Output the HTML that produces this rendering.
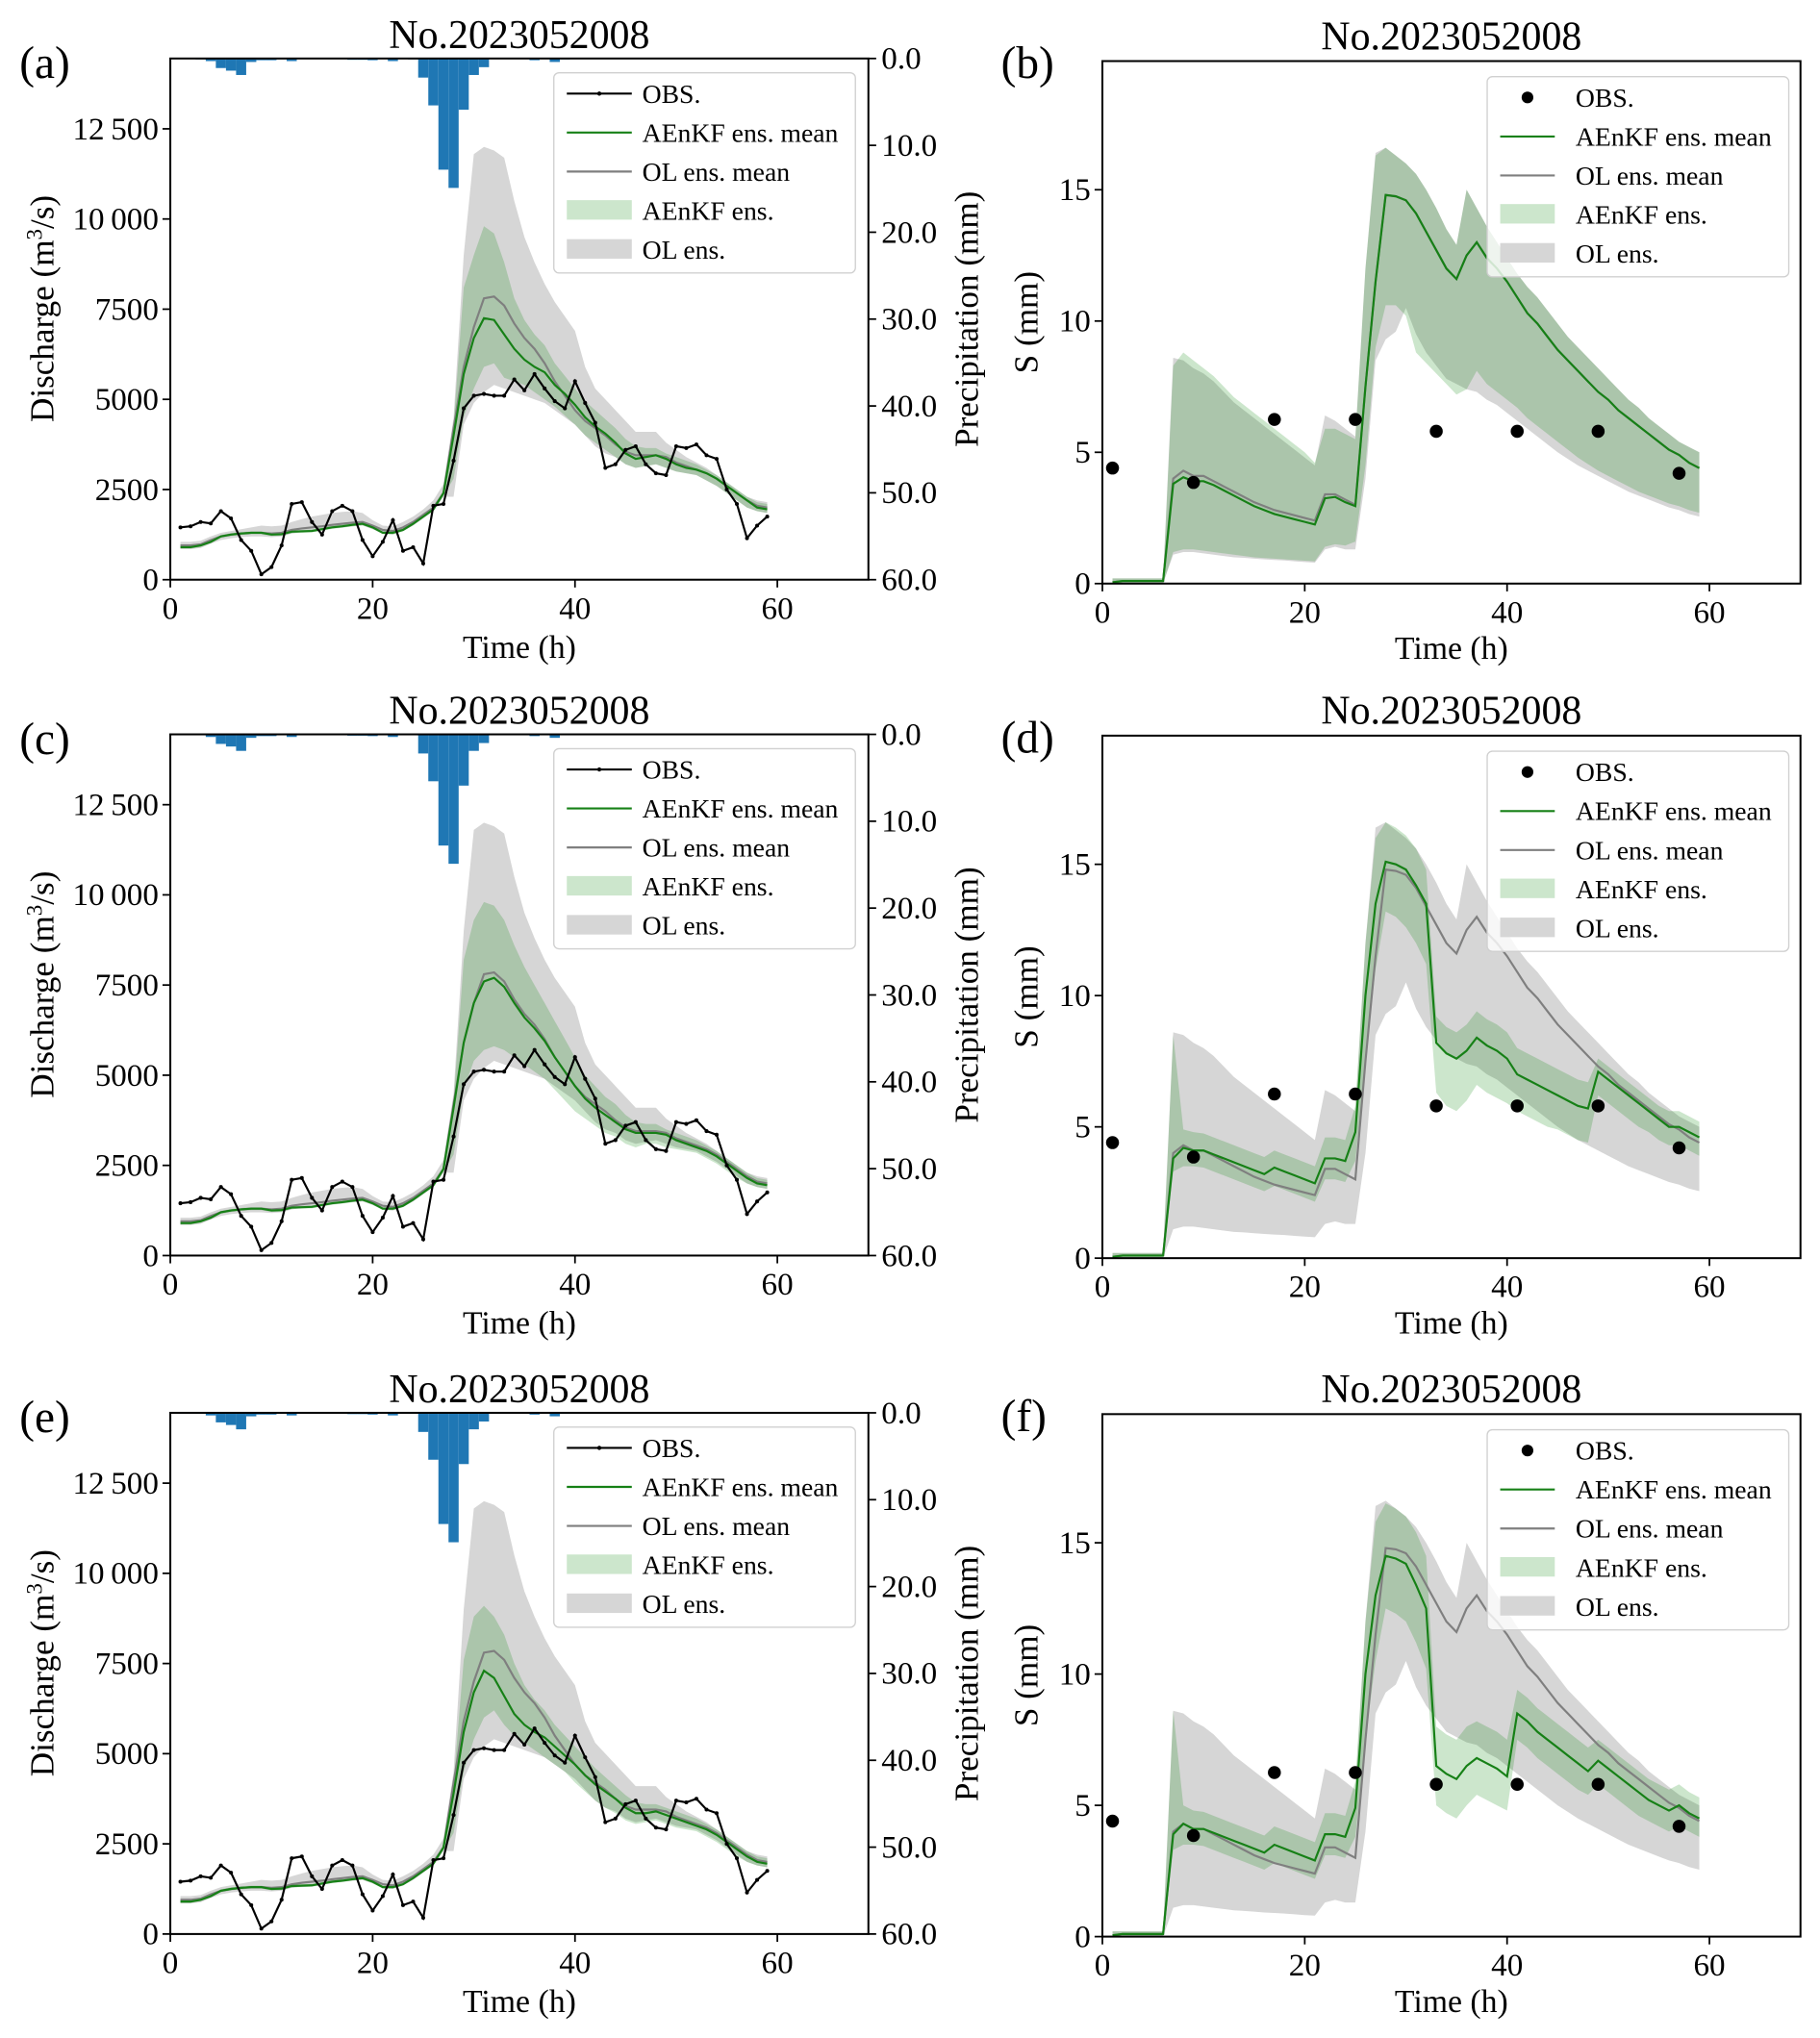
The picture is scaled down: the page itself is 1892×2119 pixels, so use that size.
<!DOCTYPE html>
<html><head><meta charset="utf-8"><style>
html,body{margin:0;padding:0;background:#fff}
svg{display:block}
text{font-family:"Liberation Serif",serif;fill:#000}
</style></head><body>
<svg id="fig" xmlns="http://www.w3.org/2000/svg" width="1892" height="2119" viewBox="0 0 1400 1568"></svg>
<script>
// ---------- data ----------
const times = [1,2,3,4,5,6,7,8,9,10,11,12,13,14,15,16,17,18,19,20,21,22,23,24,25,26,27,28,29,30,31,32,33,34,35,36,37,38,39,40,41,42,43,44,45,46,47,48,49,50,51,52,53,54,55,56,57,58,59];
const obsQ = [1450,1480,1600,1560,1900,1700,1100,800,150,350,950,2100,2150,1600,1250,1900,2050,1900,1100,650,1050,1650,800,900,450,2050,2100,3300,4750,5100,5150,5100,5100,5550,5250,5700,5300,4950,4750,5500,4900,4350,3100,3200,3600,3700,3200,2950,2900,3700,3650,3750,3450,3350,2500,2100,1150,1500,1750];
const olMeanQ = [950,950,980,1100,1200,1250,1280,1300,1300,1280,1300,1380,1420,1450,1480,1520,1550,1580,1600,1500,1380,1350,1450,1600,1800,2000,2400,4200,5900,7000,7800,7850,7600,7100,6700,6400,6000,5500,5100,4700,4400,4200,4000,3750,3550,3450,3450,3450,3400,3250,3150,3050,2950,2800,2600,2400,2200,2050,2000];
const olLoQ = [850,850,880,1000,1100,1150,1180,1200,1200,1180,1200,1280,1320,1350,1380,1420,1450,1480,1500,1400,1280,1250,1350,1500,1700,1900,2300,2300,4300,4900,5200,5400,5300,5200,5100,5000,4900,4700,4500,4300,4000,3700,3500,3400,3200,3100,3150,3200,3100,3000,2950,2900,2750,2600,2400,2200,2000,1900,1850];
const olHiQ = [1050,1050,1080,1200,1300,1350,1400,1450,1500,1480,1500,1600,1680,1750,1800,1850,1880,1900,1850,1650,1500,1480,1600,1750,1950,2200,2650,4500,9000,11800,12000,11900,11700,10500,9500,8800,8200,7700,7300,6900,5900,5300,5000,4700,4400,4100,4100,4100,3800,3600,3400,3250,3100,2900,2700,2500,2300,2200,2150];
const aMeanEarly = [900,900,950,1050,1200,1250,1280,1300,1300,1250,1260,1330,1340,1350,1400,1450,1480,1520,1550,1450,1300,1300,1380,1550,1750,1950,2400];
const aLoEarly = [860,860,910,1010,1160,1210,1240,1260,1260,1210,1220,1290,1300,1310,1360,1410,1440,1480,1510,1410,1260,1260,1340,1510,1710,1900,2320];
const aHiEarly = [940,940,990,1090,1240,1290,1320,1340,1340,1290,1300,1370,1380,1390,1440,1500,1540,1580,1600,1500,1340,1340,1420,1590,1800,2010,2480];
const aMeanA = aMeanEarly.concat([4000,5700,6700,7250,7200,6800,6400,6100,5900,5750,5400,5150,4850,4500,4250,4050,3800,3500,3350,3400,3450,3350,3200,3100,3050,2950,2800,2600,2400,2200,2000,1950]);
const aLoA = aLoEarly.concat([2800,4500,5300,5900,6000,5600,5500,5400,5200,5000,4800,4550,4300,4000,3800,3600,3400,3200,3100,3150,3200,3100,3000,2950,2900,2750,2600,2400,2200,2000,1900,1850]);
const aHiA = aHiEarly.concat([4300,8100,9000,9800,9600,8800,7800,7200,6800,6500,6000,5650,5300,4950,4700,4450,4200,3900,3700,3650,3650,3500,3400,3300,3200,3050,2900,2700,2500,2300,2150,2100]);
const aMeanC = aMeanEarly.concat([4100,5900,7000,7600,7700,7450,7000,6600,6300,5950,5500,5100,4700,4350,4100,3900,3700,3500,3400,3400,3400,3350,3200,3100,3000,2900,2750,2550,2350,2150,2000,1950]);
const aLoC = aLoEarly.concat([2800,4600,5400,5700,5800,5700,5500,5300,5100,4900,4600,4300,4000,3800,3600,3400,3300,3100,3000,3100,3100,3000,2950,2900,2850,2700,2550,2350,2150,2000,1900,1850]);
const aHiC = aHiEarly.concat([4300,8200,9300,9800,9700,9300,8600,8000,7500,7000,6500,6000,5500,5000,4700,4400,4200,3900,3700,3650,3650,3500,3400,3300,3200,3050,2900,2700,2500,2300,2150,2100]);
const aMeanE = aMeanEarly.concat([3900,5600,6700,7300,7100,6600,6100,5800,5600,5450,5200,4950,4700,4400,4150,3950,3750,3500,3350,3350,3400,3300,3200,3100,3000,2900,2750,2550,2350,2150,2000,1950]);
const aLoE = aLoEarly.concat([2800,4500,5400,6000,6200,5800,5500,5300,5100,4900,4700,4500,4200,3950,3700,3500,3350,3150,3050,3100,3150,3050,2950,2900,2850,2700,2550,2350,2150,2000,1900,1850]);
const aHiE = aHiEarly.concat([4200,7600,8800,9100,8800,8300,7500,6900,6500,6200,5800,5500,5200,4900,4600,4350,4100,3850,3650,3600,3600,3500,3400,3300,3200,3050,2900,2700,2500,2300,2150,2100]);
// precipitation (mm) per hour, hours 1..40
const precipHours = [1,2,3,4,5,6,7,8,9,10,11,12,13,14,15,16,17,18,19,20,21,22,23,24,25,26,27,28,29,30,31,32,33,34,35,36,37,38,39,40];
const precipMM = [0,0,0.1,0.3,1.1,1.4,1.9,0.4,0.2,0.2,0.1,0.3,0.05,0.05,0.05,0.05,0.05,0.15,0.15,0.2,0.05,0.3,0.05,0.1,2.2,5.4,12.8,14.9,5.9,1.9,1.0,0.05,0.05,0.05,0.05,0.2,0.05,0.4,0.1,0];
// S (mm) panels
const obsSTimes = [1,9,17,25,33,41,49,57];
const obsS = [4.4,3.85,6.25,6.25,5.8,5.8,5.8,4.2];
const olMeanS = [0.05,0.1,0.1,0.1,0.1,0.1,4.0,4.3,4.1,4.1,3.9,3.7,3.5,3.3,3.1,2.95,2.8,2.7,2.6,2.5,2.4,3.4,3.4,3.2,3.0,7.5,11.5,14.8,14.75,14.6,14.1,13.4,12.7,12.0,11.6,12.5,13.0,12.4,12.0,11.5,10.9,10.3,9.9,9.4,8.9,8.5,8.1,7.7,7.3,7.0,6.6,6.3,6.0,5.7,5.4,5.1,4.9,4.6,4.4];
const olLoS = [0,0,0,0,0,0,1.1,1.2,1.2,1.15,1.1,1.05,1.0,0.98,0.95,0.92,0.9,0.88,0.85,0.82,0.8,1.3,1.4,1.3,1.3,4.0,8.5,9.3,9.6,10.5,9.5,8.8,8.3,7.8,7.6,7.4,7.3,7.0,6.8,6.5,6.2,5.9,5.6,5.3,5.0,4.75,4.5,4.3,4.1,3.9,3.7,3.5,3.35,3.2,3.05,2.9,2.8,2.65,2.55];
const olHiS = [0.2,0.2,0.2,0.2,0.2,0.2,8.6,8.5,8.2,8.0,7.7,7.3,6.9,6.6,6.3,6.0,5.7,5.4,5.1,4.8,4.5,6.4,6.2,5.9,5.6,12.0,16.4,16.6,16.3,16.0,15.6,15.0,14.3,13.5,12.9,15.0,14.3,13.6,13.0,12.4,11.8,11.3,10.9,10.4,9.9,9.4,9.0,8.6,8.2,7.8,7.4,7.0,6.7,6.3,6.0,5.7,5.4,5.2,5.0];
const aMeanSB = [0.05,0.1,0.1,0.1,0.1,0.1,3.8,4.05,3.9,3.9,3.75,3.55,3.35,3.15,2.95,2.8,2.65,2.55,2.45,2.35,2.25,3.25,3.3,3.1,2.95,7.5,11.5,14.8,14.75,14.6,14.1,13.4,12.7,12.0,11.6,12.5,13.0,12.4,12.0,11.5,10.9,10.3,9.9,9.4,8.9,8.5,8.1,7.7,7.3,7.0,6.6,6.3,6.0,5.7,5.4,5.1,4.9,4.6,4.4];
const aLoSB = [0,0,0,0,0,0,1.2,1.3,1.3,1.25,1.2,1.15,1.1,1.05,1.0,0.97,0.95,0.92,0.9,0.87,0.85,1.4,1.5,1.45,1.6,4.5,9.0,10.6,10.6,10.2,8.8,8.4,8.0,7.6,7.2,7.4,8.1,7.6,7.3,7.0,6.7,6.3,6.0,5.7,5.4,5.1,4.8,4.55,4.3,4.1,3.9,3.7,3.5,3.35,3.2,3.05,2.95,2.8,2.7];
const aHiSB = [0.2,0.2,0.2,0.2,0.2,0.2,8.3,8.8,8.5,8.2,7.9,7.5,7.1,6.8,6.5,6.2,5.9,5.6,5.3,5.0,4.6,5.9,5.9,5.7,5.5,12.0,16.3,16.6,16.3,16.0,15.6,15.0,14.3,13.5,12.9,15.0,14.3,13.6,13.0,12.4,11.8,11.3,10.9,10.4,9.9,9.4,9.0,8.6,8.2,7.8,7.4,7.0,6.7,6.3,6.0,5.7,5.4,5.2,5.0];
const aMeanSD = [0.05,0.1,0.1,0.1,0.1,0.1,3.8,4.2,4.1,4.1,3.95,3.8,3.65,3.5,3.35,3.2,3.45,3.3,3.15,3.0,2.85,3.8,3.8,3.7,4.8,10.0,13.5,15.1,15.0,14.8,14.2,13.5,8.2,7.8,7.6,7.9,8.4,8.1,7.9,7.6,7.0,6.8,6.6,6.4,6.2,6.0,5.8,5.7,7.1,6.8,6.5,6.2,5.9,5.6,5.3,5.0,5.0,4.8,4.6];
const aLoSD = [0,0,0,0,0,0,3.3,3.5,3.5,3.45,3.3,3.15,3.0,2.85,2.7,2.55,2.75,2.6,2.45,2.3,2.15,3.0,3.0,2.9,3.7,7.5,11.0,13.2,13.0,12.6,12.0,11.2,6.3,5.8,5.6,6.0,6.6,6.3,6.1,5.9,5.6,5.4,5.2,5.0,4.9,4.7,4.5,4.4,6.2,5.9,5.6,5.3,5.0,4.8,4.5,4.3,4.3,4.1,3.9];
const aHiSD = [0.2,0.2,0.2,0.2,0.2,0.2,8.5,4.9,4.8,4.75,4.6,4.45,4.3,4.15,4.0,3.85,4.1,3.95,3.8,3.65,3.5,4.6,4.6,4.5,5.8,12.0,16.0,16.6,16.4,16.1,15.6,14.8,9.2,8.8,8.6,8.9,9.4,9.1,8.9,8.6,8.0,7.8,7.6,7.4,7.2,7.0,6.8,6.7,7.6,7.3,7.0,6.7,6.4,6.1,5.8,5.6,5.6,5.4,5.2];
const aMeanSF = [0.05,0.1,0.1,0.1,0.1,0.1,3.9,4.3,4.1,4.1,3.95,3.8,3.65,3.5,3.35,3.2,3.5,3.35,3.2,3.05,2.9,3.9,3.9,3.8,4.9,10.0,13.0,14.5,14.4,14.2,13.4,12.5,6.5,6.2,6.0,6.5,6.8,6.6,6.4,6.1,8.5,8.2,7.8,7.5,7.2,6.9,6.6,6.3,6.7,6.4,6.1,5.8,5.5,5.2,5.0,4.8,5.0,4.7,4.5];
const aLoSF = [0,0,0,0,0,0,3.3,3.5,3.5,3.45,3.3,3.15,3.0,2.85,2.7,2.55,2.8,2.65,2.5,2.35,2.2,3.1,3.1,3.0,3.8,7.5,10.5,12.5,12.3,12.0,11.2,10.2,5.0,4.7,4.5,5.0,5.4,5.2,5.0,4.8,7.5,7.2,6.8,6.5,6.2,5.9,5.6,5.4,5.8,5.5,5.2,4.9,4.6,4.4,4.2,4.0,4.2,4.0,3.8];
const aHiSF = [0.2,0.2,0.2,0.2,0.2,0.2,8.6,5.0,4.8,4.75,4.6,4.45,4.3,4.15,4.0,3.85,4.2,4.05,3.9,3.75,3.6,4.7,4.7,4.6,5.9,12.0,15.8,16.5,16.3,16.0,15.4,14.5,8.0,7.7,7.5,8.0,8.2,8.0,7.8,7.5,9.4,9.1,8.7,8.4,8.1,7.8,7.5,7.2,7.5,7.2,6.9,6.6,6.3,6.0,5.8,5.6,5.8,5.5,5.3];
const qTicks = [0,2500,5000,7500,10000,12500];
const qTickLabels = ["0","2500","5000","7500","10\u2009000","12\u2009500"];
const pTicks = [0,10,20,30,40,50,60];
const pTickLabels = ["0.0","10.0","20.0","30.0","40.0","50.0","60.0"];
const xTicks = [0,20,40,60];
const sTicks = [0,5,10,15];

// ---------- drawing ----------
const NS = "http://www.w3.org/2000/svg";
const svg = document.getElementById('fig');
function el(tag, attrs, parent, txt){
  const e = document.createElementNS(NS, tag);
  for (const k in attrs) e.setAttribute(k, attrs[k]);
  if (txt !== undefined) e.textContent = txt;
  (parent || svg).appendChild(e);
  return e;
}
function grp(name, parent){
  const g = document.createElementNS(NS,'g');
  
  
  (parent||svg).appendChild(g);
  return g;
}
function bandPath(xs, lo, hi, sx, sy){
  let d = '';
  for (let i=0;i<xs.length;i++) d += (i?'L':'M') + sx(xs[i]).toFixed(2) + ',' + sy(hi[i]).toFixed(2);
  for (let i=xs.length-1;i>=0;i--) d += 'L' + sx(xs[i]).toFixed(2) + ',' + sy(lo[i]).toFixed(2);
  return d + 'Z';
}
function linePath(xs, ys, sx, sy){
  let d='';
  for (let i=0;i<xs.length;i++) d += (i?'L':'M') + sx(xs[i]).toFixed(2) + ',' + sy(ys[i]).toFixed(2);
  return d;
}
const TITLE = 'No.2023052008';
const BAND_GRAY = '#d6d6d6', GREEN = '#168016', GRAYLINE = '#7f7f7f';
const TICK_FS = 24.5, LEG_FS = 20.5, TITLE_FS = 31;

function legend(g, x0, y0, w, obsDot){
  const box = el('rect',{x:x0,y:y0,width:w,height:154,rx:4,fill:'#fff','fill-opacity':0.8,stroke:'#d0d0d0','stroke-width':1},g);
   
  const rows = [['OBS.','obs'],['AEnKF ens. mean','amean'],['OL ens. mean','olmean'],['AEnKF ens.','aband'],['OL ens.','olband']];
  rows.forEach((r,i)=>{
    const ry = y0 + 16 + i*30;
    const eg = grp('legend-entry-'+r[1], g);
    const sx0 = x0+10, sx1 = x0+ (obsDot?52:60);
    if (r[1]==='obs'){
      if (obsDot) el('circle',{cx:(sx0+sx1)/2,cy:ry,r:4.5,fill:'#000'},eg);
      else { el('line',{x1:sx0,y1:ry,x2:sx1,y2:ry,stroke:'#000','stroke-width':1.6},eg); el('circle',{cx:(sx0+sx1)/2,cy:ry,r:1.6,fill:'#000'},eg); }
    } else if (r[1]==='amean') el('line',{x1:sx0,y1:ry,x2:sx1,y2:ry,stroke:GREEN,'stroke-width':1.6},eg);
    else if (r[1]==='olmean') el('line',{x1:sx0,y1:ry,x2:sx1,y2:ry,stroke:GRAYLINE,'stroke-width':1.6},eg);
    else if (r[1]==='aband') el('rect',{x:sx0,y:ry-8,width:sx1-sx0,height:15,fill:'green','fill-opacity':0.2},eg);
    else el('rect',{x:sx0,y:ry-8,width:sx1-sx0,height:15,fill:BAND_GRAY},eg);
    el('text',{x:x0+68,y:ry+7,'font-size':LEG_FS},eg,r[0]);
  });
}

function dischargePanel(label, oy, aMean, aLo, aHi){
  const g = grp('discharge-panel-'+label);
  const L=131,R=668,T=45+oy,B=446+oy;
  const sx = t => L + t*(R-L)/69;
  const sy = v => B - v*(B-T)/14450;
  const sp = p => T + p*(B-T)/60;
  el('text',{x:15,y:60+oy,'font-size':35},g,'('+label+')');
  el('text',{x:(L+R)/2,y:37+oy,'font-size':TITLE_FS,'text-anchor':'middle'},g,TITLE);
  const cp = 'clip'+label;
  const cl = el('clipPath',{id:cp},g); el('rect',{x:L,y:T,width:R-L,height:B-T},cl);
  const pg = grp('plot-area', g); pg.setAttribute('clip-path','url(#'+cp+')');
  el('path',{d:bandPath(times,olLoQ,olHiQ,sx,sy),fill:BAND_GRAY},pg);
  el('path',{d:bandPath(times,aLo,aHi,sx,sy),fill:'green','fill-opacity':0.2},pg);
  el('path',{d:linePath(times,olMeanQ,sx,sy),fill:'none',stroke:GRAYLINE,'stroke-width':1.6},pg);
  el('path',{d:linePath(times,aMean,sx,sy),fill:'none',stroke:GREEN,'stroke-width':1.6},pg);
  el('path',{d:linePath(times,obsQ,sx,sy),fill:'none',stroke:'#000','stroke-width':1.6},pg);
  times.forEach((t,i)=>{ const c = el('circle',{cx:sx(t),cy:sy(obsQ[i]),r:1.5,fill:'#000'},pg);
      });
  precipHours.forEach((h,i)=>{ if (precipMM[i]<=0) return;
    const b = el('rect',{x:sx(h-0.5),y:T,width:sx(1)-sx(0),height:sp(precipMM[i])-T,fill:'#1f77b4'},pg);
      });
  el('rect',{x:L,y:T,width:R-L,height:B-T,fill:'none',stroke:'#000','stroke-width':1.5},g);
  qTicks.forEach((v,i)=>{ el('line',{x1:L-6,y1:sy(v),x2:L,y2:sy(v),stroke:'#000','stroke-width':1.3},g);
    el('text',{x:L-9,y:sy(v)+8,'font-size':TICK_FS,'text-anchor':'end'},g,qTickLabels[i]); });
  pTicks.forEach((v,i)=>{ el('line',{x1:R,y1:sp(v),x2:R+6,y2:sp(v),stroke:'#000','stroke-width':1.3},g);
    el('text',{x:R+10,y:sp(v)+8,'font-size':TICK_FS},g,pTickLabels[i]); });
  xTicks.forEach(v=>{ el('line',{x1:sx(v),y1:B,x2:sx(v),y2:B+6,stroke:'#000','stroke-width':1.3},g);
    el('text',{x:sx(v),y:B+30,'font-size':TICK_FS,'text-anchor':'middle'},g,String(v)); });
  el('text',{x:(L+R)/2,y:B+60,'font-size':25,'text-anchor':'middle'},g,'Time (h)');
  const yl = el('text',{x:0,y:0,'font-size':26,'text-anchor':'middle',transform:'translate(41,'+((T+B)/2-8)+') rotate(-90)'},g);
  
  yl.appendChild(document.createTextNode('Discharge (m'));
  el('tspan',{dy:-9,'font-size':17},yl,'3'); el('tspan',{dy:9},yl,'/s)');
  el('text',{x:0,y:0,'font-size':26,'text-anchor':'middle',transform:'translate(752,'+(T+B)/2+') rotate(-90)'},g,'Precipitation (mm)');
  const lg = grp('legend', g); legend(lg, 426, 56+oy, 232, false);
}

function storagePanel(label, oy, aMean, aLo, aHi){
  const g = grp('storage-panel-'+label);
  const L=848,R=1385,T=47+oy,B=449+oy;
  const sx = t => L + t*(R-L)/69;
  const sy = v => B - v*(B-T)/19.9;
  el('text',{x:770,y:60+oy,'font-size':35},g,'('+label+')');
  el('text',{x:(L+R)/2,y:38+oy,'font-size':TITLE_FS,'text-anchor':'middle'},g,TITLE);
  const cp = 'clip'+label;
  const cl = el('clipPath',{id:cp},g); el('rect',{x:L,y:T,width:R-L,height:B-T},cl);
  const pg = grp('plot-area', g); pg.setAttribute('clip-path','url(#'+cp+')');
  el('path',{d:bandPath(times,olLoS,olHiS,sx,sy),fill:BAND_GRAY},pg);
  el('path',{d:bandPath(times,aLo,aHi,sx,sy),fill:'green','fill-opacity':0.2},pg);
  el('path',{d:linePath(times,olMeanS,sx,sy),fill:'none',stroke:GRAYLINE,'stroke-width':1.6},pg);
  el('path',{d:linePath(times,aMean,sx,sy),fill:'none',stroke:GREEN,'stroke-width':1.6},pg);
  obsSTimes.forEach((t,i)=>{ const c = el('circle',{cx:sx(t),cy:sy(obsS[i]),r:5,fill:'#000'},pg);
      });
  el('rect',{x:L,y:T,width:R-L,height:B-T,fill:'none',stroke:'#000','stroke-width':1.5},g);
  sTicks.forEach(v=>{ el('line',{x1:L-6,y1:sy(v),x2:L,y2:sy(v),stroke:'#000','stroke-width':1.3},g);
    el('text',{x:L-9,y:sy(v)+8,'font-size':TICK_FS,'text-anchor':'end'},g,String(v)); });
  xTicks.forEach(v=>{ el('line',{x1:sx(v),y1:B,x2:sx(v),y2:B+6,stroke:'#000','stroke-width':1.3},g);
    el('text',{x:sx(v),y:B+30,'font-size':TICK_FS,'text-anchor':'middle'},g,String(v)); });
  el('text',{x:(L+R)/2,y:B+58,'font-size':25,'text-anchor':'middle'},g,'Time (h)');
  el('text',{x:0,y:0,'font-size':26,'text-anchor':'middle',transform:'translate(798,'+(T+B)/2+') rotate(-90)'},g,'S (mm)');
  const lg = grp('legend', g); legend(lg, 1144, 59+oy, 232, true);
}

dischargePanel('a',0,aMeanA,aLoA,aHiA);
storagePanel('b',0,aMeanSB,aLoSB,aHiSB);
dischargePanel('c',520,aMeanC,aLoC,aHiC);
storagePanel('d',519,aMeanSD,aLoSD,aHiSD);
dischargePanel('e',1042,aMeanE,aLoE,aHiE);
storagePanel('f',1041,aMeanSF,aLoSF,aHiSF);
</script>
</body></html>
